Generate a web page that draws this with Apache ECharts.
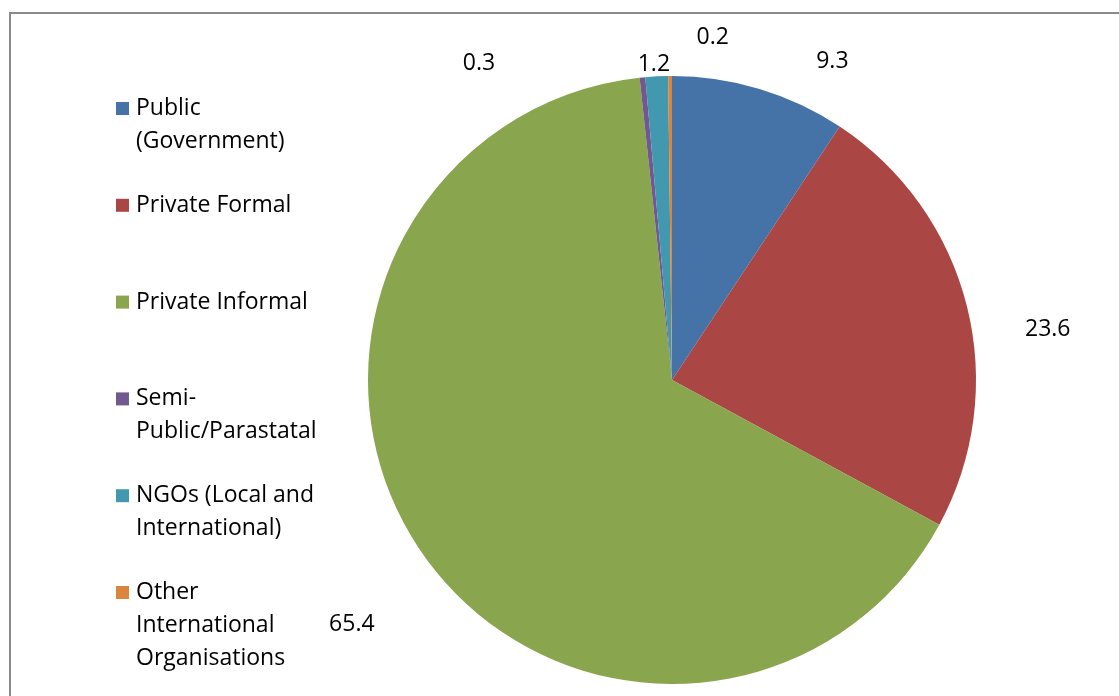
<!DOCTYPE html>
<html>
<head>
<meta charset="utf-8">
<script src="https://cdn.jsdelivr.net/npm/echarts@6/dist/echarts.min.js"></script>
<style>
html,body{margin:0;padding:0;background:#fff;}
#chart{width:1119px;height:696px;}
</style>
</head>
<body>
<div id="chart"></div>
<script>
const categories = [
  'Public (Government)',
  'Private Formal',
  'Private Informal',
  'Semi-Public/Parastatal',
  'NGOs (Local and International)',
  'Other International Organisations'
];
const legendLines = [
  ['Public', '(Government)'],
  ['Private Formal'],
  ['Private Informal'],
  ['Semi-', 'Public/Parastatal'],
  ['NGOs (Local and', 'International)'],
  ['Other', 'International', 'Organisations']
];
const values = [9.3, 23.6, 65.4, 0.3, 1.2, 0.2];
const colors = ['#4572A7', '#AA4643', '#89A54E', '#71588F', '#4198AF', '#DB843D'];
// small label nudges (dx, dy) applied on top of the library's outside label layout
const labelNudge = [[28, 1], [9, 30], [0, 58], [14, -33], [140, -7], [79, -9]];

const FONT = '"Open Sans", sans-serif';
const chart = echarts.init(document.getElementById('chart'));

const lineMap = {};
categories.forEach((c, i) => { lineMap[c] = legendLines[i]; });

chart.setOption({
  animation: false,
  color: colors,
  graphic: [{
    type: 'rect',
    shape: { x: 10, y: 13, width: 1200, height: 800 },
    style: { fill: 'none', stroke: '#8a8a8a', lineWidth: 2 },
    silent: true
  }],
  legend: {
    orient: 'vertical',
    left: 116,
    top: 26,
    padding: 0,
    itemWidth: 13,
    itemHeight: 13,
    itemGap: -68.2,
    icon: 'rect',
    data: categories,
    formatter: function (name) {
      const l = lineMap[name].slice();
      while (l.length < 3) l.push('');
      return '\n\n' + l.join('\n');
    },
    textStyle: {
      fontFamily: FONT,
      fontSize: 23,
      lineHeight: 33,
      color: '#000',
      padding: [0, 0, 0, 2]
    }
  },
  series: [{
    type: 'pie',
    center: [672, 380],
    radius: [0, 304],
    startAngle: 90,
    clockwise: true,
    avoidLabelOverlap: true,
    data: categories.map((c, i) => ({ name: c, value: values[i] })),
    itemStyle: { borderWidth: 0 },
    label: {
      show: true,
      position: 'outside',
      formatter: function (p) { return p.value.toFixed(1); },
      fontFamily: FONT,
      fontSize: 23,
      color: '#000'
    },
    labelLine: { show: false, length: 30, length2: 15 },
    labelLayout: function (params) {
      const n = labelNudge[params.dataIndex];
      return { dx: n[0], dy: n[1] };
    },
    emphasis: { disabled: true }
  }]
});
</script>
</body>
</html>
